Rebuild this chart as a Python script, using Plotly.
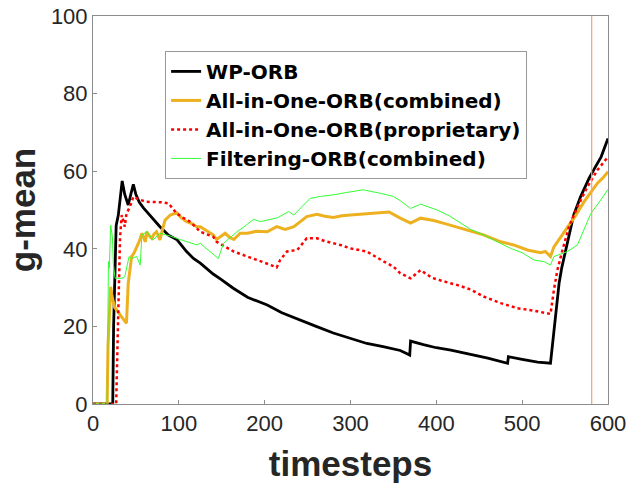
import plotly.graph_objects as go

# ---- data ----
wp_t = [0, 23, 24, 25.5, 27, 29.5, 31, 34, 37, 41, 44, 47, 50, 54, 59, 66, 72, 78, 88, 98, 109, 117, 125,
        140, 150, 163, 180, 203, 220, 241, 260, 280, 300, 319, 338, 358, 369, 370, 385, 400, 417, 440,
        460, 483, 484, 500, 518, 533, 535, 537, 539, 541, 543, 546, 549, 552, 555, 560, 568, 578, 585, 592, 600]
wp_v = [0, 0, 20, 38, 46, 48.7, 52, 57.5, 54, 51.3, 54, 56.6, 54, 52, 50.5, 48.7, 47, 45.7, 43.5, 42.3, 39.3, 37.5, 36.3,
        33.5, 32, 29.9, 27.5, 25.5, 23.5, 21.6, 20, 18.3, 17.0, 15.6, 14.8, 13.8, 12.6, 16.2, 15.3, 14.5, 13.9, 12.8,
        11.8, 10.5, 12.2, 11.5, 10.8, 10.5, 14.8, 19, 24.2, 28, 31.1, 35, 38, 41, 44, 48.7, 53.4, 58.2, 61, 63.7, 68.4]

aio_c_t = [0, 16.5, 17.5, 19, 20.6, 22, 25, 30, 35, 39, 41, 43, 45, 48, 51, 54, 57, 61, 62.6, 65, 68.5, 71, 74, 78,
           81, 84, 90, 97.6, 103, 109, 115, 121, 125, 130, 135, 140, 144, 150, 154, 159, 164, 171.5, 180, 190, 203,
           214, 224, 234, 241, 249, 261, 270, 280, 290, 300, 315, 331, 345, 358, 370, 381.6, 397, 410, 428, 440,
           455, 475, 490, 506, 521.6, 527, 533, 537, 545, 552.7, 562, 572, 580, 587.7, 595, 600]
aio_c_v = [0, 0, 15, 25, 30.2, 28, 25, 23.5, 22, 20.8, 31, 35, 38, 39, 40.5, 42, 44, 41.8, 44.4, 43.5, 42.7, 43.8, 44.4, 42.3,
           45, 47.4, 48.7, 49.3, 48, 47, 46.5, 45.7, 45.7, 45, 44.5, 43.6, 42.4, 43.5, 44, 43, 42.4, 44, 44, 44.5, 44.4,
           45.7, 45, 45.7, 47, 48.3, 48.9, 48.4, 48.1, 48.5, 48.7, 49, 49.3, 49.5, 47.9, 46.6, 47.9, 47.3, 46.5, 45.3, 44.5,
           43.6, 41.8, 41, 39.7, 39, 39.3, 38, 40.5, 43, 45.3, 48.5, 52.1, 54.5, 56.9, 58.5, 59.9]

aio_p_t = [0, 27, 28, 29.5, 30.7, 31.5, 33.5, 35, 37, 39, 43, 47, 51, 55, 62.6, 70, 80, 88, 97.6, 105, 113, 125, 140,
           144, 155, 164, 180, 195, 205, 214, 218, 226, 238, 249, 261, 270, 288, 300, 319, 339, 350, 358, 370, 381.6,
           395, 416.6, 424, 440, 455, 475, 494, 515, 533, 537, 541, 547, 554.6, 564.4, 576, 587.7, 595, 600]
aio_p_v = [0, 0, 10, 22, 31, 43, 48.7, 47, 45.7, 49.1, 50.8, 53.4, 53, 52.6, 52.1, 52.1, 52, 51.7, 49.1, 48, 47, 44.4, 43.1,
           41.8, 40.5, 39.3, 38, 36.9, 36, 35.2, 37.1, 39.3, 39.7, 42.7, 42.7, 42, 41, 40.1, 39.3, 36.7, 35.4, 33.7, 32.4, 34.5,
           32.5, 31.1, 30.7, 29.5, 27.7, 26, 24.7, 24, 23.2, 29.4, 34.5, 39.7, 45.7, 50.8, 56, 60.3, 62.3, 63.7]

flt_t = [0, 16.5, 17.5, 18, 19, 20.6, 22.6, 23.7, 25.7, 30, 33.5, 37, 42, 45, 51, 55, 57, 62.6, 66, 70, 78, 90, 100,
         109, 121, 125, 130, 136.5, 146, 152, 160, 167.7, 175, 187, 195, 203, 215, 228, 234, 244, 253, 265, 280, 295,
         315, 335, 350, 358, 370, 381.6, 401, 415, 428, 440, 455, 470, 486.6, 500, 513.8, 525.5, 533, 537, 552.7,
         564.4, 572, 580, 591.6, 600]
flt_v = [0, 0, 24.7, 36.7, 35, 46.1, 43.1, 36.2, 32.4, 32.5, 32.4, 32.8, 38, 37.5, 38, 35.8, 43.6, 44.4, 43.5, 42.3, 44, 43.3, 42.5,
         41.8, 41, 41.4, 40.5, 39.3, 37.5, 41.4, 43, 44.4, 45.5, 47.6, 47, 47.4, 48, 49.6, 48.7, 51, 53, 53.5, 53.9, 54.5,
         55.2, 54.3, 53.5, 52.4, 50.4, 51.5, 50, 48.5, 46.6, 45, 43.6, 42, 40.1, 39, 37.1, 36.7, 35.8, 38, 39.3,
         41, 45, 49.1, 52.6, 55.3]

marker_t = 581
series_names = ["WP-ORB", "All-in-One-ORB(combined)", "All-in-One-ORB(proprietary)", "Filtering-ORB(combined)"]
x_ticks = [0, 100, 200, 300, 400, 500, 600]
y_ticks = [0, 20, 40, 60, 80, 100]

fig = go.Figure()
fig.add_trace(go.Scatter(x=wp_t, y=wp_v, mode="lines", name=series_names[0],
                         line=dict(color="#000000", width=2.8)))
fig.add_trace(go.Scatter(x=aio_c_t, y=aio_c_v, mode="lines", name=series_names[1],
                         line=dict(color="#EDB120", width=3)))
fig.add_trace(go.Scatter(x=aio_p_t, y=aio_p_v, mode="lines", name=series_names[2],
                         line=dict(color="#FF0000", width=2.5, dash="dot")))
fig.add_trace(go.Scatter(x=flt_t, y=flt_v, mode="lines", name=series_names[3],
                         line=dict(color="#33FF33", width=1)))

fig.add_shape(type="line", xref="x", yref="paper", x0=marker_t, x1=marker_t, y0=0, y1=1,
              line=dict(color="#F4A07A", width=1.2))

axis_common = dict(showline=True, mirror=True, linecolor="#8c8c8c", linewidth=1, automargin=False,
                   ticks="inside", ticklen=4, tickcolor="#8c8c8c", showgrid=False, zeroline=False,
                   tickfont=dict(family="Liberation Sans, Arial", size=22, color="#262626"))

fig.update_layout(
    width=629, height=490,
    margin=dict(l=93, r=21, t=16, b=86, autoexpand=False),
    paper_bgcolor="white", plot_bgcolor="white",
    xaxis=dict(range=[0, 600], tickvals=x_ticks,
               title=dict(text="timesteps", standoff=16,
                          font=dict(family="Liberation Sans, Arial", size=35, color="#262626", weight="bold")),
               **axis_common),
    yaxis=dict(range=[0, 100], tickvals=y_ticks,
               title=dict(text="g-mean", standoff=4,
                          font=dict(family="Liberation Sans, Arial", size=35, color="#262626", weight="bold")),
               **axis_common),
    legend=dict(x=0.14, y=0.91, xanchor="left", yanchor="top",
                bgcolor="white", bordercolor="#999999", borderwidth=1,
                font=dict(family="DejaVu Sans", size=20, color="#000000", weight="bold"),
                tracegroupgap=0, itemwidth=30),
    showlegend=True,
)

fig.write_html("out.html", config={"displayModeBar": False},
               post_script="document.body.style.margin='0';document.body.style.padding='0';")
